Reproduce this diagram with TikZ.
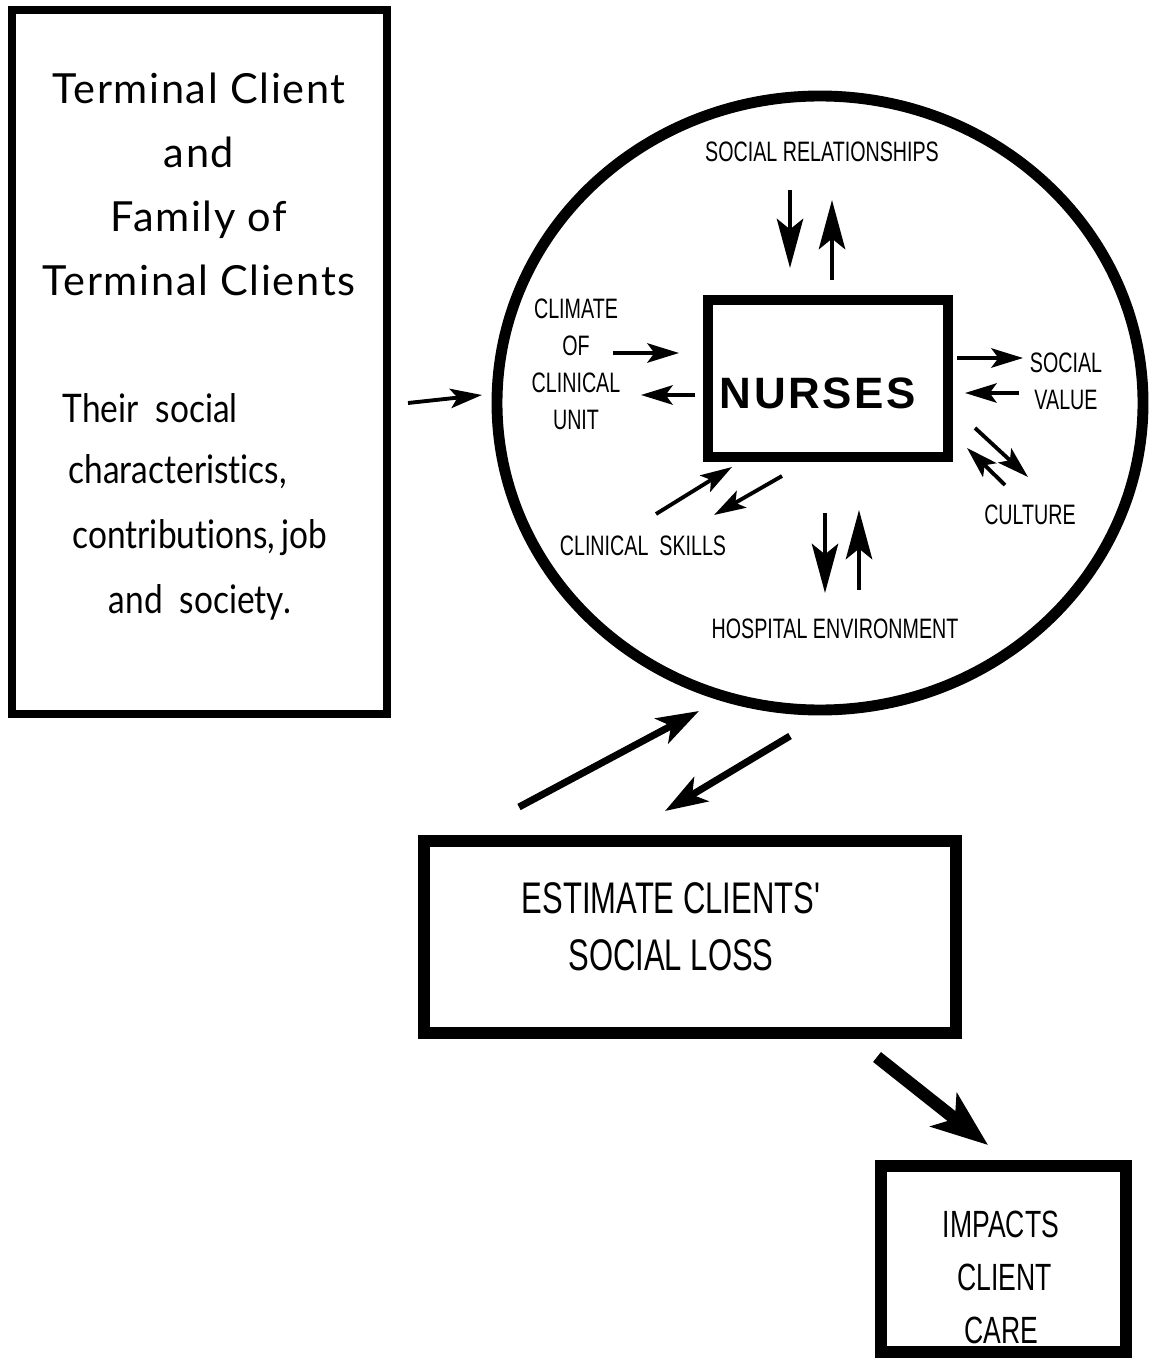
\documentclass[tikz,border=0pt]{standalone}
\usepackage{fontspec}
\setmainfont{Liberation Sans}
\newfontfamily\handfont[LetterSpace=4]{Lato}
\newfontfamily\handnarrow[FakeStretch=0.85,Ligatures=NoCommon]{Lato}
\newfontfamily\cadfont[FakeStretch=0.7]{Liberation Sans}
\usepackage{xcolor}
\usepackage{tikz}
\usetikzlibrary{arrows.meta,positioning,calc,shapes.geometric}
\definecolor{inkblack}{RGB}{0, 0, 0}

\begin{document}
\begin{tikzpicture}[>=Stealth,
    heavybox/.style={draw=inkblack, inner sep=0pt},
    cadlabel/.style={font=\cadfont\fontsize{8}{10.5}\selectfont, align=center, inner sep=0pt},
    handline/.style={font=\handnarrow\fontsize{11.2}{13}\selectfont, anchor=west, inner sep=0pt},
    thinarrow/.style={draw=inkblack, line width=1.1pt, -{Stealth[length=9pt,width=5.5pt,inset=2pt]}},
    tallarrow/.style={draw=inkblack, line width=1.2pt, -{Stealth[length=14pt,width=7.5pt,inset=3pt]}},
    boldarrow/.style={draw=inkblack, line width=2pt, -{Stealth[length=12pt,width=8pt,inset=3pt]}},
    heavyarrow/.style={draw=inkblack, line width=3.6pt, -{Stealth[length=16pt,width=12pt,inset=4pt]}}]
    \useasboundingbox (0,0) rectangle (11.53,-13.6);

    % Terminal client box
    \node[heavybox, line width=2.3pt, minimum width=3.75cm, minimum height=7.04cm] (family) at (1.995,-3.62) {};
    \node[font=\handfont\fontsize{11.8}{18.2}\selectfont, align=center, inner sep=0pt] (famtitle) at (1.99,-1.84)
        {Terminal Client\\and\\Family of\\Terminal Clients};
    \node[handline] (famline1) at (0.62,-4.08) {Their\ \ social};
    \node[handline] (famline2) at (0.68,-4.72) {characteristics,};
    \node[handline] (famline3) at (0.72,-5.38) {contributions,\,job};
    \node[handline] (famline4) at (1.08,-6.02) {and\ \ society.};

    % Nurses' setting (ellipse)
    \node[draw=inkblack, ellipse, line width=3.1pt, minimum width=6.46cm, minimum height=6.14cm, inner sep=0pt] (setting) at (8.20,-4.03) {};

    % Nurses box
    \node[heavybox, line width=2.6pt, minimum width=2.40cm, minimum height=1.57cm] (nurses) at (8.28,-3.785) {};
    \node[font=\addfontfeature{LetterSpace=6}\bfseries\fontsize{12.5}{14}\selectfont, inner sep=0pt] (nurseslabel) at (8.18,-3.93) {NURSES};

    % Labels round the nurses
    \node[cadlabel] (socrel) at (8.22,-1.52) {SOCIAL RELATIONSHIPS};
    \node[cadlabel] (climate) at (5.76,-3.64) {CLIMATE\\OF\\CLINICAL\\UNIT};
    \node[cadlabel] (socval) at (10.66,-3.81) {SOCIAL\\VALUE};
    \node[cadlabel] (culture) at (10.30,-5.15) {CULTURE};
    \node[cadlabel] (skills) at (6.43,-5.46) {CLINICAL\ \ SKILLS};
    \node[cadlabel] (hospital) at (8.35,-6.29) {HOSPITAL ENVIRONMENT};

    % Estimate box
    \node[heavybox, line width=3.4pt, minimum width=5.32cm, minimum height=1.92cm] (estimate) at (6.90,-9.37) {};
    \node[font=\cadfont\fontsize{12.6}{16.2}\selectfont, align=center, inner sep=0pt] (estimatelabel) at (6.71,-9.265)
        {ESTIMATE CLIENTS'\\SOCIAL LOSS};

    % Impacts box
    \node[heavybox, line width=3.4pt, minimum width=2.45cm, minimum height=1.86cm] (impacts) at (10.035,-12.59) {};
    \node[font=\cadfont\fontsize{10.8}{15}\selectfont, align=center, inner sep=0pt] (impactslabel) at (10.01,-12.775)
        {IMPACTS\\\ CLIENT\\CARE};

    % Arrow end points
    \coordinate (famtail) at (4.08,-4.03);
    \coordinate (famhead) at (4.82,-3.95);
    \coordinate (srdowntail) at (7.90,-1.90);
    \coordinate (srdownhead) at (7.90,-2.68);
    \coordinate (sruptail) at (8.32,-2.80);
    \coordinate (srubhead) at (8.32,-2.00);
    \coordinate (clintail) at (6.13,-3.53);
    \coordinate (clinhead) at (6.79,-3.53);
    \coordinate (clouttail) at (6.95,-3.95);
    \coordinate (clouthead) at (6.41,-3.95);
    \coordinate (svouttail) at (9.57,-3.58);
    \coordinate (svouthead) at (10.23,-3.58);
    \coordinate (svintail) at (10.19,-3.93);
    \coordinate (svinhead) at (9.65,-3.93);
    \coordinate (cuouttail) at (9.75,-4.28);
    \coordinate (cuouthead) at (10.28,-4.77);
    \coordinate (cuintail) at (10.05,-4.85);
    \coordinate (cuinhead) at (9.67,-4.48);
    \coordinate (skintail) at (6.56,-5.14);
    \coordinate (skinhead) at (7.32,-4.67);
    \coordinate (skouttail) at (7.82,-4.76);
    \coordinate (skouthead) at (7.14,-5.15);
    \coordinate (hedowntail) at (8.25,-5.13);
    \coordinate (hedownhead) at (8.25,-5.93);
    \coordinate (heuptail) at (8.59,-5.90);
    \coordinate (heuphead) at (8.59,-5.10);
    \coordinate (estuptail) at (5.19,-8.07);
    \coordinate (estuphead) at (6.99,-7.11);
    \coordinate (estdowntail) at (7.90,-7.36);
    \coordinate (estdownhead) at (6.65,-8.11);
    \coordinate (imptail) at (8.77,-10.57);
    \coordinate (imphead) at (9.88,-11.45);

    % Client box to setting
    \draw[thinarrow] (famtail) -- (famhead);

    % Two-way arrows round the nurses
    \draw[tallarrow] (srdowntail) -- (srdownhead);
    \draw[tallarrow] (sruptail) -- (srubhead);
    \draw[thinarrow] (clintail) -- (clinhead);
    \draw[thinarrow] (clouttail) -- (clouthead);
    \draw[thinarrow] (svouttail) -- (svouthead);
    \draw[thinarrow] (svintail) -- (svinhead);
    \draw[thinarrow] (cuouttail) -- (cuouthead);
    \draw[thinarrow] (cuintail) -- (cuinhead);
    \draw[thinarrow] (skintail) -- (skinhead);
    \draw[thinarrow] (skouttail) -- (skouthead);
    \draw[tallarrow] (hedowntail) -- (hedownhead);
    \draw[tallarrow] (heuptail) -- (heuphead);

    % Setting and estimate
    \draw[boldarrow] (estuptail) -- (estuphead);
    \draw[boldarrow] (estdowntail) -- (estdownhead);

    % Estimate to impacts
    \draw[heavyarrow] (imptail) -- (imphead);
\end{tikzpicture}
\end{document}
